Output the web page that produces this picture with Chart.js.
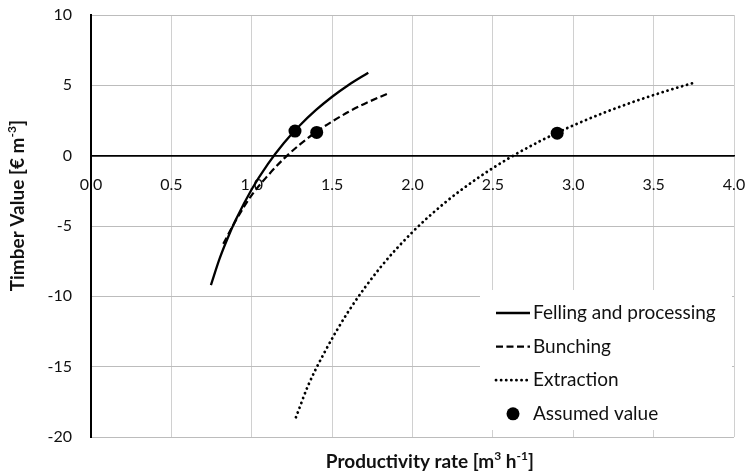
<!DOCTYPE html>
<html>
<head>
<meta charset="utf-8">
<script src="https://cdn.jsdelivr.net/npm/chart.js@4.4.1/dist/chart.umd.min.js"></script>
<style>
  body { margin: 0; background: #ffffff; }
</style>
</head>
<body>
<canvas id="chartCanvas" width="747" height="473"></canvas>
<script>
"use strict";

// Values
const fellingX = [0.746, 0.80, 0.85, 0.90, 1.00, 1.10, 1.20, 1.30, 1.40, 1.50, 1.60, 1.725];
const fellingY = [-9.2, -7.32, -5.87, -4.58, -2.39, -0.60, 0.90, 2.16, 3.25, 4.19, 5.01, 5.90];

const bunchX = [0.823, 0.90, 1.00, 1.10, 1.20, 1.30, 1.40, 1.50, 1.60, 1.70, 1.849];
const bunchY = [-6.27, -4.62, -2.80, -1.42, -0.21, 0.80, 1.68, 2.43, 3.10, 3.68, 4.43];

const extractX = [1.275, 1.35, 1.45, 1.60, 1.80, 2.00, 2.20, 2.40, 2.60, 2.80, 3.00, 3.20, 3.40, 3.60, 3.747];
const extractY = [-18.6, -16.36, -14.04, -11.10, -7.95, -5.43, -3.36, -1.64, -0.18, 1.07, 2.15, 3.09, 3.93, 4.67, 5.17];

const assumedX = [1.269, 1.404, 2.90];
const assumedY = [1.75, 1.65, 1.6];

const seriesLabels = ["Felling and processing", "Bunching", "Extraction", "Assumed value"];

const xTitle = [["Productivity rate [m", false], ["3", true], [" h", false], ["-1", true], ["]", false]];
const yTitle = [["Timber Value [\u20AC m", false], ["-3", true], ["]", false]];

const FONT = "Lato, 'Open Sans', sans-serif";

function toPoints(xs, ys) {
    return xs.map((x, i) => ({x: x, y: ys[i]}));
}

// Draw a line of text with superscript parts, centred on (x, y)
function drawRich(ctx, parts, x, y, size) {
    const big = `bold ${size}px ${FONT}`;
    const small = `bold ${Math.round(size * 0.62)}px ${FONT}`;
    let total = 0;
    parts.forEach(([t, sup]) => {
        ctx.font = sup ? small : big;
        total += ctx.measureText(t).width;
    });
    let cx = x - total / 2;
    ctx.textAlign = "left";
    ctx.textBaseline = "middle";
    parts.forEach(([t, sup]) => {
        ctx.font = sup ? small : big;
        ctx.fillText(t, cx, sup ? y - size * 0.32 : y);
        cx += ctx.measureText(t).width;
    });
}

// Axis titles, placed like the reference
const axisTitles = {
    id: "axisTitles",
    afterDraw(chart) {
        const ctx = chart.ctx;
        const a = chart.chartArea;
        ctx.save();
        ctx.fillStyle = "#111111";
        drawRich(ctx, xTitle, a.left + (a.right - a.left) * 0.527, a.bottom + 25, 19);
        ctx.translate(18, a.top + (a.bottom - a.top) * 0.452);
        ctx.rotate(-Math.PI / 2);
        drawRich(ctx, yTitle, 0, 0, 19);
        ctx.restore();
    }
};

// Legend box in the lower right corner of the plot
const legendBox = {
    id: "legendBox",
    afterDatasetsDraw(chart) {
        const ctx = chart.ctx;
        const a = chart.chartArea;
        const left = a.right - 254;
        const top = a.bottom - 147;
        ctx.save();
        ctx.fillStyle = "#ffffff";
        ctx.fillRect(left, top, 252, 140);
        chart.data.datasets.forEach((ds, i) => {
            const y = top + 23 + i * 33.6;
            ctx.strokeStyle = "#000000";
            ctx.fillStyle = "#000000";
            if (ds.showLine) {
                ctx.lineWidth = ds.borderWidth;
                ctx.lineCap = ds.borderCapStyle || "butt";
                ctx.setLineDash(ds.borderDash || []);
                ctx.beginPath();
                ctx.moveTo(left + 16, y);
                ctx.lineTo(left + 50, y);
                ctx.stroke();
            } else {
                ctx.beginPath();
                ctx.arc(left + 33, y, ds.pointRadius, 0, Math.PI * 2);
                ctx.fill();
            }
            ctx.setLineDash([]);
            ctx.fillStyle = "#111111";
            ctx.font = `19px ${FONT}`;
            ctx.textAlign = "left";
            ctx.textBaseline = "middle";
            ctx.fillText(ds.label, left + 53, y);
        });
        ctx.restore();
    }
};

// Keep the axes from pushing the plot area around
function noPadding(scale) {
    scale.paddingTop = 0;
    scale.paddingBottom = 0;
    scale.paddingLeft = 0;
    scale.paddingRight = 0;
}

const config = {
    type: "scatter",
    data: {
        datasets: [
            {
                label: seriesLabels[0],
                data: toPoints(fellingX, fellingY),
                showLine: true,
                borderColor: "#000000",
                borderWidth: 2.3,
                pointRadius: 0,
                cubicInterpolationMode: "monotone"
            },
            {
                label: seriesLabels[1],
                data: toPoints(bunchX, bunchY),
                showLine: true,
                borderColor: "#000000",
                borderWidth: 2.2,
                borderDash: [7, 3.5],
                pointRadius: 0,
                cubicInterpolationMode: "monotone"
            },
            {
                label: seriesLabels[2],
                data: toPoints(extractX, extractY),
                showLine: true,
                borderColor: "#000000",
                borderWidth: 2.8,
                borderDash: [0.1, 5],
                borderCapStyle: "round",
                pointRadius: 0,
                cubicInterpolationMode: "monotone"
            },
            {
                label: seriesLabels[3],
                data: toPoints(assumedX, assumedY),
                showLine: false,
                pointRadius: 6.5,
                pointBackgroundColor: "#000000",
                pointBorderColor: "#000000",
                pointBorderWidth: 0
            }
        ]
    },
    options: {
        responsive: false,
        animation: false,
        layout: {padding: {top: 15, right: 13, bottom: 36, left: 0}},
        plugins: {
            legend: {display: false},
            tooltip: {enabled: false}
        },
        scales: {
            x: {
                type: "linear",
                min: 0,
                max: 4,
                position: {y: 0},
                grid: {
                    color: (c) => (c.tick && c.tick.value === 0 ? "#000000" : "#d0d0d0"),
                    drawTicks: false
                },
                border: {color: "#000000", width: 1.6},
                ticks: {
                    stepSize: 0.5,
                    autoSkip: false,
                    maxRotation: 0,
                    padding: 20,
                    color: "#111111",
                    font: {family: FONT, size: 16},
                    callback: (v) => v.toFixed(1)
                },
                afterFit: noPadding
            },
            y: {
                type: "linear",
                min: -20,
                max: 10,
                grid: {
                    color: (c) => (c.tick && c.tick.value === 0 ? "#000000" : "#bcbcbc"),
                    lineWidth: (c) => (c.tick && c.tick.value === 0 ? 1.6 : 1),
                    drawTicks: false
                },
                border: {color: "#000000", width: 2},
                ticks: {
                    stepSize: 5,
                    padding: 19,
                    color: "#111111",
                    font: {family: FONT, size: 16}
                },
                afterFit: (scale) => { noPadding(scale); scale.width = 91; }
            }
        }
    },
    plugins: [legendBox, axisTitles]
};

const chart = new Chart(document.getElementById("chartCanvas").getContext("2d"), config);
</script>
</body>
</html>
